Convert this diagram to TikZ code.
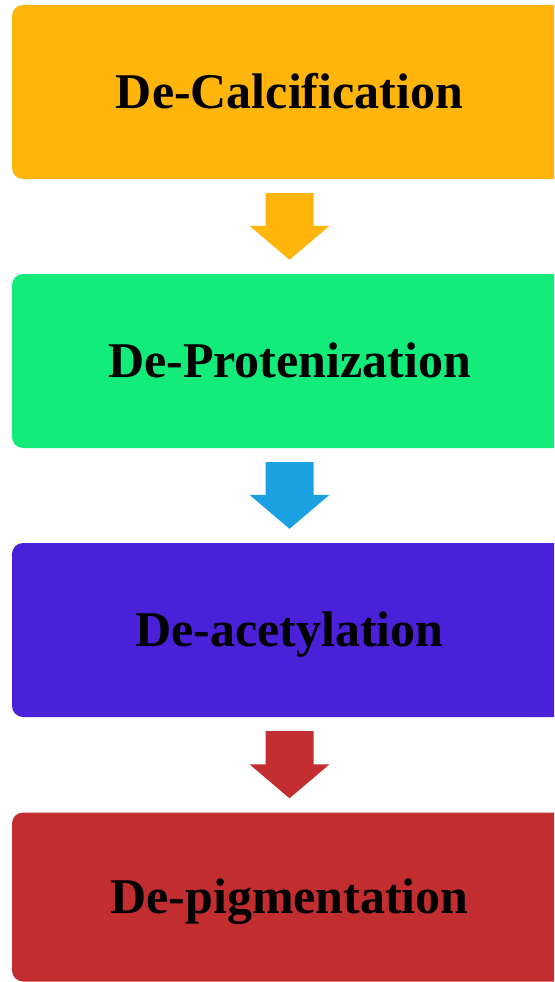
\documentclass[tikz,border=0pt]{standalone}
\usepackage{tikz}
\usepackage{xcolor}
\usepackage{fontspec}
\setmainfont{Liberation Serif}
\usetikzlibrary{calc}
\definecolor{calccolor}{RGB}{255,181,11}
\definecolor{protcolor}{RGB}{19,236,122}
\definecolor{acetcolor}{RGB}{74,32,216}
\definecolor{pigmcolor}{RGB}{194,46,48}
\definecolor{bluearrow}{RGB}{27,161,226}

\begin{document}
\begin{tikzpicture}[
    x=1pt, y=1pt,
    stage/.style={rectangle, rounded corners=11pt, minimum width=555pt, minimum height=174pt, inner sep=0pt, text height=33pt, text depth=0pt, align=center, font=\fontsize{50}{60}\selectfont\bfseries, text=black}
]

% Frame
\useasboundingbox (0,0) rectangle (554,-982);
\clip (0,0) rectangle (554,-982);

% Stages
\node[stage, fill=calccolor] (calc) at (289.5, -92) {De-Calcification};
\node[stage, fill=protcolor] (prot) at (289.5, -361) {De-Protenization};
\node[stage, fill=acetcolor] (acet) at (289.5, -630) {De-acetylation};
\node[stage, fill=pigmcolor, minimum height=169pt] (pigm) at (289.5, -897) {De-pigmentation};

% Block arrows
\fill[calccolor] ($(calc.south)+(-24,-14)$) -- ($(calc.south)+(24,-14)$) -- ($(prot.north)+(24,48)$) -- ($(prot.north)+(40,48)$) -- ($(prot.north)+(0,14)$) -- ($(prot.north)+(-40,48)$) -- ($(prot.north)+(-24,48)$) -- cycle;
\fill[bluearrow] ($(prot.south)+(-24,-14)$) -- ($(prot.south)+(24,-14)$) -- ($(acet.north)+(24,48)$) -- ($(acet.north)+(40,48)$) -- ($(acet.north)+(0,14)$) -- ($(acet.north)+(-40,48)$) -- ($(acet.north)+(-24,48)$) -- cycle;
\fill[pigmcolor] ($(acet.south)+(-24,-14)$) -- ($(acet.south)+(24,-14)$) -- ($(pigm.north)+(24,48)$) -- ($(pigm.north)+(40,48)$) -- ($(pigm.north)+(0,14)$) -- ($(pigm.north)+(-40,48)$) -- ($(pigm.north)+(-24,48)$) -- cycle;

\end{tikzpicture}
\end{document}
